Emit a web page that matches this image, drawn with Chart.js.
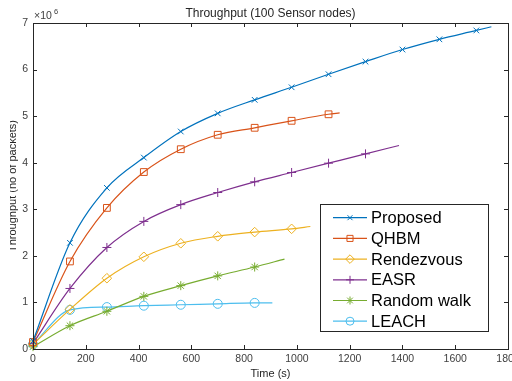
<!DOCTYPE html>
<html>
<head>
<meta charset="utf-8">
<script src="https://cdn.jsdelivr.net/npm/chart.js@4/dist/chart.umd.min.js"></script>
<style>
  html, body { margin: 0; padding: 0; background: #fff; }
  #wrap { width: 512px; height: 381px; }
</style>
</head>
<body>
<div id="wrap"><canvas id="chart" width="512" height="381"></canvas></div>
<script>
// Throughput values are in millions of packets (axis shows x10^6).
// Markers sit every 140 s; each line runs on a little past its last marker.
const times = [0, 140, 280, 420, 560, 700, 840, 980, 1120, 1260, 1400, 1540, 1680];

const proposed   = [0.17, 2.28, 3.46, 4.11, 4.67, 5.06, 5.35, 5.62, 5.90, 6.17, 6.43, 6.65, 6.84];
const qhbm       = [0.15, 1.88, 3.03, 3.80, 4.29, 4.60, 4.75, 4.90, 5.04];
const rendezvous = [0.10, 0.85, 1.52, 1.98, 2.27, 2.42, 2.51, 2.58];
const easr       = [0.12, 1.30, 2.18, 2.74, 3.10, 3.36, 3.59, 3.79, 3.99, 4.19];
const randomWalk = [0.05, 0.50, 0.81, 1.13, 1.36, 1.57, 1.76];
const leach      = [0.10, 0.84, 0.90, 0.93, 0.95, 0.97, 0.99];

// where each line stops (no marker there)
const endTimes  = [1737, 1162, 1051, 1387, 953, 907];
const endValues = [6.92, 5.07, 2.63, 4.37, 1.93, 0.99];

const seriesNames = ["Proposed", "QHBM", "Rendezvous", "EASR", "Random walk", "LEACH"];
const seriesValues = [proposed, qhbm, rendezvous, easr, randomWalk, leach];

const xTicks = [0, 200, 400, 600, 800, 1000, 1200, 1400, 1600, 1800];
const yTicks = [0, 1, 2, 3, 4, 5, 6, 7];

// MATLAB default line colours
const COLORS = ["#0072BD", "#D95319", "#EDB120", "#7E2F8E", "#77AC30", "#4DBEEE"];
const MARKERS = ["crossRot", "rect", "rectRot", "cross", "star", "circle"];
const RADII = [4, 4.8, 4.8, 4.5, 4.5, 4.5];
const AXIS = "#262626";
const TICK = "#404040";
const FONT = "'Liberation Sans', Arial, sans-serif";

const datasets = seriesNames.map((name, i) => {
  const vals = seriesValues[i];
  const pts = vals.map((v, j) => ({ x: times[j], y: v }));
  pts.push({ x: endTimes[i], y: endValues[i] });
  const last = vals.length; // index of the unmarked end point
  return {
    label: name,
    data: pts,
    borderColor: COLORS[i],
    backgroundColor: "rgba(0,0,0,0)",
    borderWidth: 1.2,
    pointStyle: MARKERS[i],
    pointRadius: (ctx) => (ctx.dataIndex === last ? 0 : RADII[i]),
    pointBorderColor: COLORS[i],
    pointBorderWidth: 1,
    pointBackgroundColor: "rgba(0,0,0,0)",
    cubicInterpolationMode: "monotone",
    clip: false,
  };
});

// Box round the axes with inward ticks on all four sides, title, y label,
// x tick labels (the last one runs off the edge, as in the source) and x10^6.
const boxPlugin = {
  id: "box",
  afterDraw(chart) {
    const { ctx, chartArea: a, scales } = chart;
    ctx.save();
    ctx.strokeStyle = AXIS;
    ctx.lineWidth = 1;
    ctx.strokeRect(Math.round(a.left) + 0.5, Math.round(a.top) + 0.5,
      Math.round(a.right - a.left), Math.round(a.bottom - a.top));
    const tl = 4;
    ctx.beginPath();
    for (const t of xTicks) {
      const px = Math.round(scales.x.getPixelForValue(t)) + 0.5;
      ctx.moveTo(px, a.bottom); ctx.lineTo(px, a.bottom - tl);
      ctx.moveTo(px, a.top); ctx.lineTo(px, a.top + tl);
    }
    for (const t of yTicks) {
      const py = Math.round(scales.y.getPixelForValue(t)) + 0.5;
      ctx.moveTo(a.left, py); ctx.lineTo(a.left + tl, py);
      ctx.moveTo(a.right, py); ctx.lineTo(a.right - tl, py);
    }
    ctx.stroke();

    ctx.fillStyle = TICK;
    ctx.textAlign = "center";
    ctx.textBaseline = "middle";
    ctx.font = "10.5px " + FONT;
    for (const t of xTicks) {
      ctx.fillText(String(t), scales.x.getPixelForValue(t), a.bottom + 10);
    }

    // title, centred over the axes
    ctx.fillStyle = AXIS;
    ctx.font = "12px " + FONT;
    ctx.fillText("Throughput (100 Sensor nodes)", (a.left + a.right) / 2, 14);

    // y label: the source figure is cropped through it on the left
    ctx.save();
    ctx.beginPath();
    ctx.rect(10, 0, 30, chart.height);
    ctx.clip();
    ctx.translate(16, (a.top + a.bottom) / 2);
    ctx.rotate(-Math.PI / 2);
    ctx.textBaseline = "alphabetic";
    ctx.font = "11px " + FONT;
    ctx.fillText("Throughput (no of packets)", 0, 0);
    ctx.restore();

    // exponent label
    ctx.fillStyle = TICK;
    ctx.textAlign = "left";
    ctx.textBaseline = "alphabetic";
    ctx.font = "10.5px " + FONT;
    ctx.fillText("\u00d710", a.left + 1, a.top - 4);
    ctx.font = "7.5px " + FONT;
    ctx.fillText("6", a.left + 21, a.top - 9);
    ctx.restore();
  },
};

// Legend drawn inside the plot, MATLAB style.
const legendPlugin = {
  id: "boxLegend",
  afterDraw(chart) {
    const { ctx } = chart;
    const x0 = 320, y0 = 204, w = 168, h = 127;
    ctx.save();
    ctx.fillStyle = "#fff";
    ctx.fillRect(x0, y0, w, h);
    ctx.strokeStyle = AXIS;
    ctx.lineWidth = 1;
    ctx.strokeRect(x0 + 0.5, y0 + 0.5, w, h);
    ctx.font = "16.5px " + FONT;
    ctx.textBaseline = "middle";
    seriesNames.forEach((name, i) => {
      const y = 217.7 + i * 20.7;
      ctx.strokeStyle = COLORS[i];
      ctx.lineWidth = 1.2;
      ctx.beginPath();
      ctx.moveTo(333, y); ctx.lineTo(367, y);
      ctx.stroke();
      ctx.lineWidth = 1;
      ctx.fillStyle = "rgba(0,0,0,0)";
      Chart.helpers.drawPoint(ctx, {
        pointStyle: MARKERS[i], radius: RADII[i] - 0.5, rotation: 0, borderWidth: 1,
      }, 350, y);
      ctx.fillStyle = "#000";
      ctx.fillText(name, 371, y + 1);
    });
    ctx.restore();
  },
};

new Chart(document.getElementById("chart"), {
  type: "line",
  data: { datasets },
  plugins: [boxPlugin, legendPlugin],
  options: {
    responsive: false,
    animation: false,
    layout: { autoPadding: false, padding: { top: 23, right: 4, bottom: 0, left: 0 } },
    plugins: {
      legend: { display: false },
      tooltip: { enabled: false },
      title: { display: false },
    },
    scales: {
      x: {
        type: "linear",
        min: 0, max: 1800,
        afterBuildTicks: (s) => { s.ticks = xTicks.map((v) => ({ value: v })); },
        afterFit: (s) => { s.height = 32; },
        grid: { display: false, drawTicks: false },
        border: { display: false },
        ticks: { display: false },
        title: { display: true, text: "Time (s)", color: AXIS, font: { family: FONT, size: 11 }, padding: { top: 0, bottom: 0 } },
      },
      y: {
        type: "linear",
        min: 0, max: 7,
        afterBuildTicks: (s) => { s.ticks = yTicks.map((v) => ({ value: v })); },
        afterFit: (s) => { s.width = 33; },
        grid: { display: false, drawTicks: false },
        border: { display: false },
        ticks: { color: TICK, font: { family: FONT, size: 10.5 }, padding: 5, callback: (v) => String(v) },
      },
    },
  },
});
</script>
</body>
</html>
